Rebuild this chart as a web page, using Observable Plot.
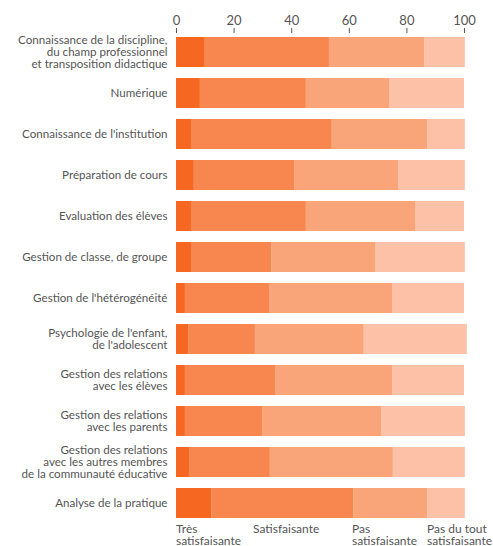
<!DOCTYPE html>
<html>
<head>
<meta charset="utf-8">
<script src="https://cdn.jsdelivr.net/npm/d3@7"></script>
<script src="https://cdn.jsdelivr.net/npm/@observablehq/plot@0.6"></script>
<style>
  html, body { margin: 0; padding: 0; background: #fff; }
  #wrap { position: relative; width: 493px; height: 546px; overflow: hidden; font-family: Lato, "Open Sans", sans-serif; }
  #legend { position: absolute; top: 523px; left: 0; width: 493px; font-size: 12px; line-height: 12px; color: #555; }
  #legend span { position: absolute; white-space: nowrap; }
</style>
</head>
<body>
<div id="wrap">
  <div id="chart"></div>
  <div id="legend"></div>
</div>
<script>
const categories = [
  "Connaissance de la discipline,\ndu champ professionnel\net transposition didactique",
  "Numérique",
  "Connaissance de l'institution",
  "Préparation de cours",
  "Evaluation des élèves",
  "Gestion de classe, de groupe",
  "Gestion de l'hétérogénéité",
  "Psychologie de l'enfant,\nde l'adolescent",
  "Gestion des relations\navec les élèves",
  "Gestion des relations\navec les parents",
  "Gestion des relations\navec les autres membres\nde la communauté éducative",
  "Analyse de la pratique"
];
const seriesNames = ["Très satisfaisante", "Satisfaisante", "Pas satisfaisante", "Pas du tout satisfaisante"];
const legendLabels = ["Très\nsatisfaisante", "Satisfaisante", "Pas\nsatisfaisante", "Pas du tout\nsatisfaisante"];
const tresSatisfaisante = [10, 8.3, 5.2, 6.2, 5.2, 5.2, 3.1, 4.2, 3.1, 3.1, 4.5, 12.2];
const satisfaisante     = [43.1, 36.8, 48.9, 35, 39.9, 28, 29.2, 23.2, 31.3, 27, 28.1, 49.3];
const pasSatisfaisante  = [33.2, 29.1, 33.1, 35.9, 38.1, 35.9, 42.7, 37.8, 40.8, 41.1, 42.7, 25.7];
const pasDuTout         = [14, 25.8, 13.1, 23.2, 16.8, 31.2, 25, 35.8, 24.8, 29.1, 25, 13.1];
const xTicks = [0, 20, 40, 60, 80, 100];
const colors = ["#F66722", "#F7874F", "#F9A479", "#FCC1A7"];

const seriesValues = [tresSatisfaisante, satisfaisante, pasSatisfaisante, pasDuTout];
const data = [];
categories.forEach((c, i) => {
  seriesNames.forEach((s, j) => data.push({category: c, series: s, value: seriesValues[j][i]}));
});

const chart = Plot.plot({
  width: 493,
  height: 522,
  marginTop: 32,
  marginBottom: 0,
  marginLeft: 176,
  marginRight: 29,
  style: {fontFamily: "Lato, 'Open Sans', sans-serif", color: "#555", background: "#fff"},
  x: {domain: [0, 100], axis: null},
  y: {domain: categories, paddingInner: 0.2715, paddingOuter: 0.073, axis: null},
  color: {domain: seriesNames, range: colors},
  marks: [
    Plot.barX(data, Plot.stackX({x: "value", y: "category", fill: "series", z: "series", order: seriesNames})),
    Plot.axisX({anchor: "top", ticks: xTicks, tickSize: 5, tickPadding: 3, fontSize: 13, stroke: "#555", color: "#555", label: null}),
    Plot.axisY({anchor: "left", tickSize: 0, tickPadding: 9, fontSize: 11.6, lineHeight: 1.02, color: "#555", label: null})
  ]
});
document.getElementById("chart").appendChild(chart);

const legendLeft = [176, 253, 352, 427];
const legend = document.getElementById("legend");
legendLabels.forEach((t, i) => {
  const s = document.createElement("span");
  s.style.left = legendLeft[i] + "px";
  s.innerHTML = t.split("\n").join("<br>");
  legend.appendChild(s);
});
</script>
</body>
</html>
